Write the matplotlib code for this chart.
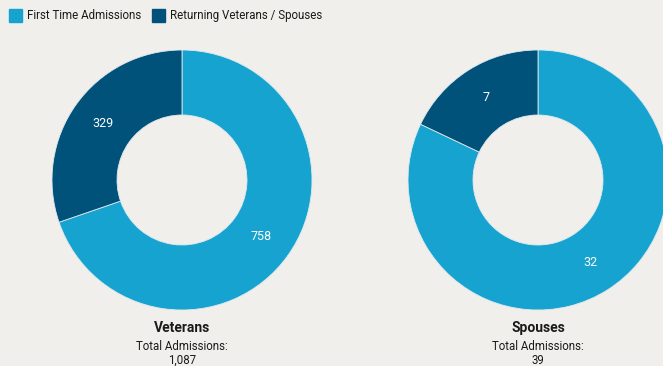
import matplotlib.pyplot as plt
from matplotlib.patches import Rectangle

plt.rcParams['font.family'] = ['Roboto', 'DejaVu Sans']

groups = ['Veterans', 'Spouses']
first_time = [758, 32]
returning = [329, 7]
totals = ['1,087', '39']
legend_labels = ['First Time Admissions', 'Returning Veterans / Spouses']

light = '#17a3cf'
dark = '#00527a'
bg = '#f0efeb'

W, H = 663, 366
fig = plt.figure(figsize=(W / 100, H / 100), dpi=100, facecolor=bg)
ax = fig.add_axes([0, 0, 1, 1])

centers_x = [182, 538]
cy = H - 180
r = 130
width = 65

for i, name in enumerate(groups):
    vals = [first_time[i], returning[i]]
    wedges, texts = ax.pie(vals, colors=[light, dark], startangle=90, counterclock=False,
                           center=(centers_x[i], cy), radius=r,
                           labels=[str(v) for v in vals], labeldistance=0.75,
                           wedgeprops=dict(width=width, edgecolor='#dfe9ee', linewidth=0.6),
                           textprops=dict(color='white', fontsize=9), frame=True)
    for t in texts:
        t.set_ha('center')
        t.set_va('center')
    ax.text(centers_x[i], H - 328, name, ha='center', va='center', fontsize=10,
            fontweight='bold', color='#1a1a1a')
    ax.text(centers_x[i], H - 347, 'Total Admissions:', ha='center', va='center',
            fontsize=8.3, color='#1a1a1a')
    ax.text(centers_x[i], H - 360, totals[i], ha='center', va='center',
            fontsize=8.3, color='#1a1a1a')

ax.set_xlim(0, W)
ax.set_ylim(0, H)
ax.set_aspect('equal')
ax.axis('off')

# legend
lx = [9, 152]
for j, lab in enumerate(legend_labels):
    ax.add_patch(Rectangle((lx[j], H - 22), 13, 13, color=[light, dark][j]))
    ax.text(lx[j] + 18, H - 15.5, lab, ha='left', va='center', fontsize=8.3, color='#1a1a1a')

fig.savefig('out.png', dpi=100, facecolor=bg)
